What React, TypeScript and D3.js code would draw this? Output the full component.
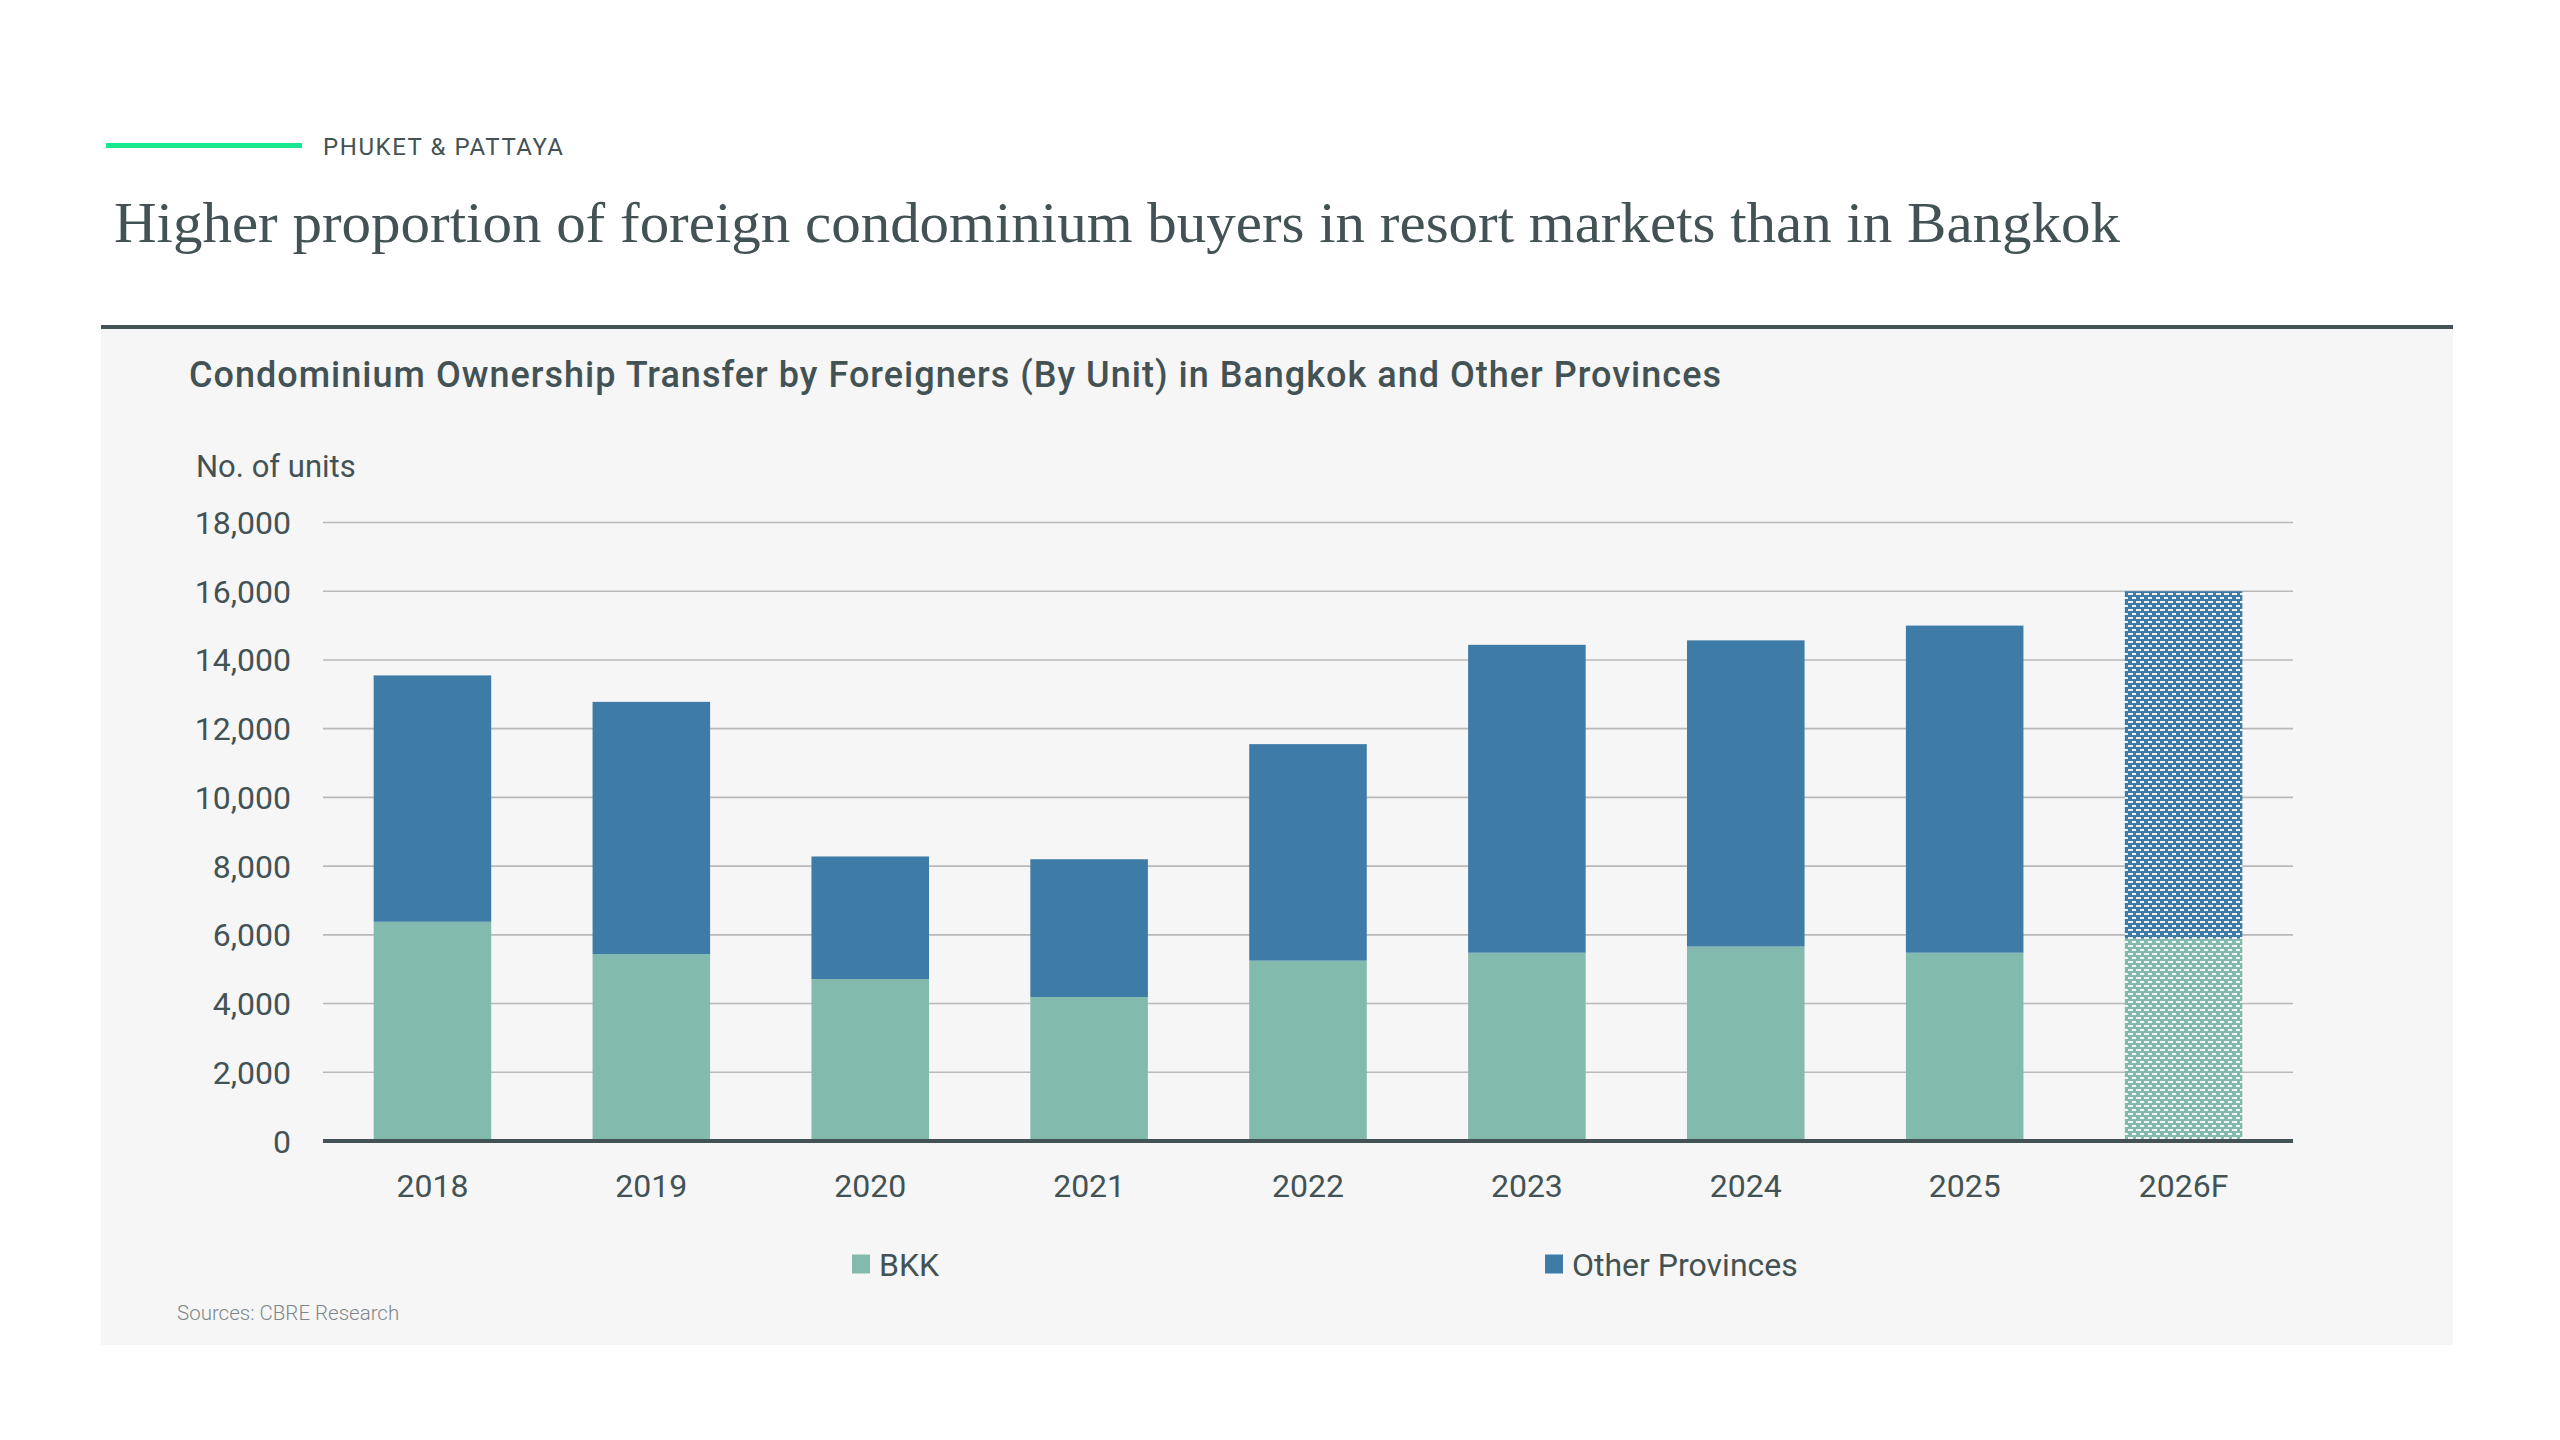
import { useMemo } from 'react';
import * as d3 from 'd3';

const categories = ['2018', '2019', '2020', '2021', '2022', '2023', '2024', '2025', '2026F'];
const bkkValues = [6380, 5440, 4710, 4190, 5250, 5480, 5660, 5480, 5890];
const otherValues = [7170, 7340, 3570, 4010, 6300, 8960, 8910, 9520, 10110];
const forecastCategories = ['2026F'];
const yTicks = [0, 2000, 4000, 6000, 8000, 10000, 12000, 14000, 16000, 18000];
const seriesLabels = ['BKK', 'Other Provinces'];

const W = 2560;
const H = 1440;
const INK = '#435254';
const BKK_COLOR = '#82bbad';
const OTHER_COLOR = '#3e7ba7';
const SANS = 'Roboto, "Noto Sans", sans-serif';

type Row = { cat: string; bkk: number; other: number };

export default function App() {
  const rows: Row[] = useMemo(
    () => categories.map((cat, i) => ({ cat, bkk: bkkValues[i], other: otherValues[i] })),
    []
  );

  const plot = { left: 323, right: 2293, top: 522.5, bottom: 1141 };

  const x = d3
    .scaleBand<string>()
    .domain(categories)
    .range([plot.left, plot.right])
    .paddingInner(0.463)
    .paddingOuter(0.2315);

  const y = d3.scaleLinear().domain([0, 18000]).range([plot.bottom, plot.top]);

  const stacked = d3.stack<Row>().keys(['bkk', 'other'])(rows);
  const colors: Record<string, string> = { bkk: BKK_COLOR, other: OTHER_COLOR };
  const fmt = d3.format(',');

  // legend sits roughly under the middle of the plot
  const legendX = [852, 1545];
  const legendY = 1264;

  return (
    <svg
      width={W}
      height={H}
      viewBox={`0 0 ${W} ${H}`}
      style={{ position: 'absolute', left: 0, top: 0, background: '#fff' }}
    >
      <defs>
        {Object.entries(colors).map(([k, c]) => (
          <pattern key={k} id={`dots-${k}`} patternUnits="userSpaceOnUse" width={8} height={8}>
            <rect width={8} height={8} fill={c} />
            <rect x={0} y={1} width={5} height={2} fill="#fff" opacity={0.9} />
            <rect x={4} y={5} width={5} height={2} fill="#fff" opacity={0.9} />
          </pattern>
        ))}
      </defs>

      {/* header */}
      <line x1={106} x2={302} y1={145.5} y2={145.5} stroke="#17e88f" strokeWidth={5} />
      <text
        x={323}
        y={155}
        fontFamily={SANS}
        fontSize={24}
        fill={INK}
        textLength={240}
        lengthAdjust="spacing"
      >
        PHUKET &amp; PATTAYA
      </text>
      <text
        x={114}
        y={242}
        fontFamily='"Liberation Serif", "DejaVu Serif", serif'
        fontSize={58}
        fill={INK}
        textLength={2006}
        lengthAdjust="spacingAndGlyphs"
      >
        Higher proportion of foreign condominium buyers in resort markets than in Bangkok
      </text>

      {/* panel */}
      <rect x={101} y={327} width={2352} height={1018} fill="#f6f6f6" />
      <line x1={101} x2={2453} y1={327} y2={327} stroke={INK} strokeWidth={4} />

      <text
        x={189}
        y={387}
        fontFamily={SANS}
        fontSize={36}
        fontWeight={500}
        fill={INK}
        textLength={1532}
        lengthAdjust="spacing"
      >
        Condominium Ownership Transfer by Foreigners (By Unit) in Bangkok and Other Provinces
      </text>
      <text x={196} y={477} fontFamily={SANS} fontSize={31} fill={INK}>
        No. of units
      </text>

      {/* grid + y ticks */}
      {yTicks.map(t => (
        <g key={t}>
          {t > 0 && (
            <line x1={plot.left} x2={plot.right} y1={y(t)} y2={y(t)} stroke="#b9b9b9" strokeWidth={1.6} />
          )}
          <text
            x={291}
            y={y(t)}
            dy="0.36em"
            textAnchor="end"
            fontFamily={SANS}
            fontSize={32}
            fill={INK}
          >
            {fmt(t)}
          </text>
        </g>
      ))}

      {/* bars */}
      {stacked.map(s => (
        <g key={s.key}>
          {s.map(d => {
            const cat = d.data.cat;
            const isFc = forecastCategories.includes(cat);
            return (
              <rect
                key={cat}
                x={x(cat)}
                y={y(d[1])}
                width={x.bandwidth()}
                height={y(d[0]) - y(d[1])}
                fill={isFc ? `url(#dots-${s.key})` : colors[s.key]}
              />
            );
          })}
        </g>
      ))}

      {/* baseline */}
      <line x1={plot.left} x2={plot.right} y1={y(0)} y2={y(0)} stroke={INK} strokeWidth={4} />

      {/* x labels */}
      {categories.map(c => (
        <text
          key={c}
          x={(x(c) ?? 0) + x.bandwidth() / 2}
          y={1197}
          textAnchor="middle"
          fontFamily={SANS}
          fontSize={32}
          fill={INK}
        >
          {c}
        </text>
      ))}

      {/* legend */}
      {seriesLabels.map((label, i) => (
        <g key={label} transform={`translate(${legendX[i]},${legendY})`}>
          <rect x={0} y={-9.5} width={18} height={19} fill={i === 0 ? BKK_COLOR : OTHER_COLOR} />
          <text x={27} y={0} dy="0.36em" fontFamily={SANS} fontSize={32} fill={INK}>
            {label}
          </text>
        </g>
      ))}

      <text x={177} y={1320} fontFamily={SANS} fontSize={20.5} fontWeight={300} fill="#7d8789">
        Sources: CBRE Research
      </text>
    </svg>
  );
}
